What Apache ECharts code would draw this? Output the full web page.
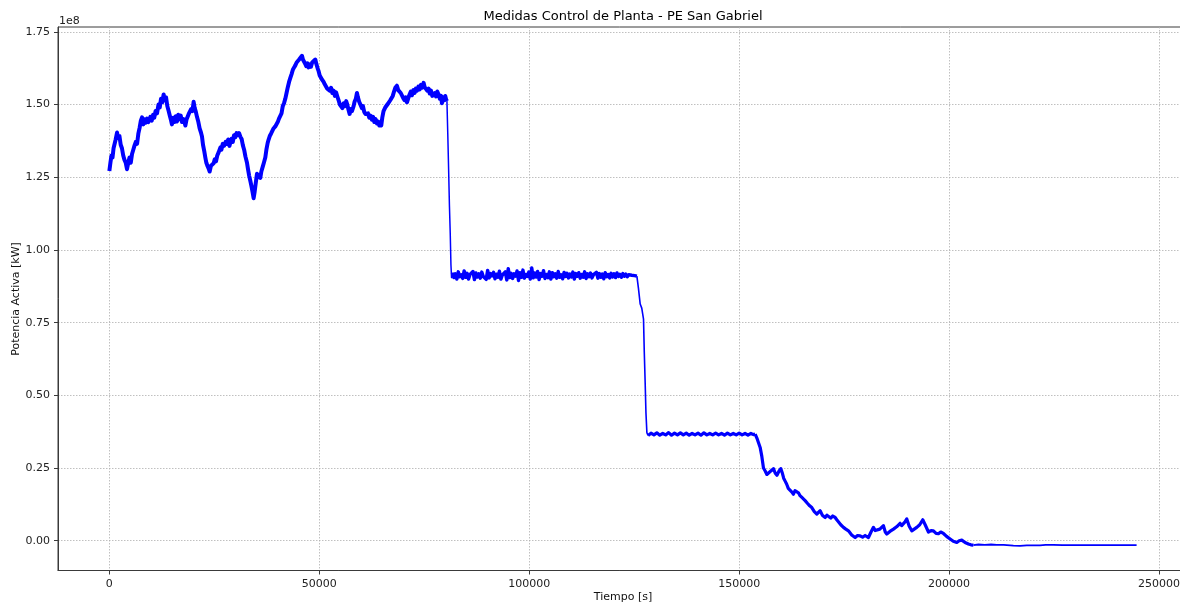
<!DOCTYPE html>
<html>
<head>
<meta charset="utf-8">
<script src="https://cdn.jsdelivr.net/npm/echarts@6/dist/echarts.min.js"></script>
<style>
html,body{margin:0;padding:0;background:#fff;}
#chart{width:1180px;height:603px;}
</style>
</head>
<body>
<div id="chart"></div>
<script>
// Tiempo [s]
const tiempo = [
0,250,500,750,1000,1250,1500,1830,2100,2400,2700,3000,3300,3600,3900,4200,4500,4800,5100,5400,5700,6000,6300,6600,6900,7200,7500,7780,8100,8400,8700,9000,9300,9760,10100,10400,10700,11000,11350,11700,12000,12300,12600,12930,13200,13500,13800,14120,14400,14700,14900,15200,15500,15800,16110,16400,16700,17000,17300,17700,18100,18400,18700,18900,19200,19500,19800,20070,20300,20600,20870,21200,21500,21800,22060,22300,22600,22860,23100,23400,23650,23890,24200,24500,24840,25100,25400,25700,26000,26430,26700,27000,27300,27700,28020,28300,28600,28810,29100,29400,29700,30000,30300,30600,30900,31190,31500,31800,32100,32400,32780,33000,33300,33570,33800,34100,34360,34600,34760,35000,35160,35400,35700,35950,36200,36500,36800,37140,37400,37700,37930,38200,38500,38800,39100,39520,39800,40100,40400,40710,41000,41300,41600,41900,42200,42500,42800,43100,43400,43700,44000,44290,44600,44900,45200,45500,45880,46100,46400,46670,46900,47200,47460,47700,48000,48300,48600,49050,49300,49600,49840,50100,50400,50700,51030,51300,51600,51900,52220,52500,52800,53100,53410,53700,54000,54300,54600,54900,55200,55500,55800,56100,56400,56700,57000,57220,57500,57800,58170,58400,58700,58970,59200,59500,59800,60160,60400,60700,61000,61350,61600,61900,62200,62540,62800,63100,63400,63740,64000,64300,64560,64760,65000,65300,65700,66000,66300,66600,66900,67200,67500,67800,68100,68490,68800,69100,69400,69680,70000,70300,70600,70880,71200,71500,71800,72070,72400,72700,73000,73260,73600,73900,74200,74500,74840,75100,75400,75700,76030,76300,76600,76900,77220,77500,77800,78100,78410,78700,79000,79210,79500,79800,80000,80200,80400,
80600,80790,81000,81190,81350,81500,
81700,82050,82400,82750,83100,83450,83800,84150,84500,84850,
85200,85550,85900,86250,86600,86950,87300,87650,88000,88350,
88700,89050,89400,89750,90100,90450,90800,91150,91500,91850,
92200,92550,92900,93250,93600,93950,94300,94650,95000,95350,
95700,96050,96400,96750,97100,97450,97800,98150,98500,98850,
99200,99550,99900,100250,100600,100950,101300,101650,102000,102350,
102700,103050,103400,103750,104100,104450,104800,105150,105500,105850,
106200,106550,106900,107250,107600,107950,108300,108650,109000,109350,
109700,110050,110400,110750,111100,111450,111800,112150,112500,112850,
113200,113550,113900,114250,114600,114950,115300,115650,116000,116350,
116700,117050,117400,117750,118100,118450,118800,119150,119500,119850,
120200,120550,120900,121250,121600,121950,122300,122650,123000,123350,
123700,124050,124400,124750,125100,125450,125640,
126000,126430,126800,127220,127400,127620,127800,128020,128300,
129000,129700,130400,131100,131800,132500,133200,133900,134600,135300,136000,136700,137400,138100,138800,139500,140200,140900,141600,142300,143000,143700,144400,145100,145800,146500,147200,147900,148600,149300,150000,150700,151400,152100,152800,153400,153810,
154300,155000,155400,155790,156200,156600,156980,157400,157800,158170,158600,159000,159200,159500,159910,160300,160600,160950,161300,161700,162140,162500,162930,163300,163700,164120,164500,165000,165710,166300,166800,167300,167900,168490,168900,169290,169800,170480,170900,171270,171800,172300,172860,173250,173650,174200,174840,175400,176030,176800,177620,178200,178810,179400,180000,180400,180790,181400,181980,182400,182780,183500,184360,184800,185160,185900,186750,187500,188330,188700,189130,189500,189920,190500,191110,191700,192300,193000,193730,194300,195080,195700,196270,196900,197460,198000,198650,199400,200240,201000,201830,202400,203020,203800,204600,205200,205790,207000,208500,210000,211350,213000,215310,216900,218500,220000,221660,223000,224830,227000,230000,234000,238000,242000,244660
];
// Potencia Activa [kW], en unidades de 1e8
const potencia_1e8 = [
1.272,1.300,1.325,1.318,1.350,1.345,1.380,1.404,1.385,1.392,1.362,1.350,1.325,1.310,1.300,1.278,1.300,1.318,1.300,1.330,1.345,1.360,1.372,1.365,1.400,1.420,1.445,1.456,1.432,1.450,1.438,1.452,1.440,1.458,1.445,1.465,1.455,1.478,1.470,1.500,1.490,1.520,1.508,1.535,1.515,1.525,1.495,1.478,1.462,1.445,1.432,1.455,1.440,1.460,1.442,1.465,1.450,1.462,1.440,1.450,1.428,1.450,1.445,1.468,1.462,1.485,1.478,1.510,1.490,1.475,1.458,1.440,1.418,1.405,1.390,1.362,1.340,1.318,1.300,1.288,1.280,1.270,1.290,1.285,1.298,1.312,1.305,1.325,1.335,1.352,1.345,1.365,1.358,1.372,1.365,1.380,1.358,1.370,1.382,1.372,1.395,1.388,1.402,1.395,1.402,1.390,1.382,1.360,1.345,1.322,1.300,1.280,1.255,1.238,1.222,1.200,1.178,1.200,1.218,1.245,1.262,1.250,1.258,1.248,1.270,1.285,1.300,1.318,1.345,1.368,1.380,1.392,1.400,1.398,1.418,1.425,1.420,1.440,1.452,1.448,1.470,1.495,1.505,1.520,1.540,1.560,1.578,1.592,1.605,1.620,1.628,1.635,1.645,1.640,1.655,1.650,1.668,1.655,1.650,1.640,1.632,1.642,1.628,1.638,1.630,1.645,1.640,1.655,1.640,1.625,1.615,1.600,1.595,1.585,1.578,1.570,1.575,1.555,1.560,1.548,1.558,1.540,1.548,1.530,1.542,1.528,1.515,1.500,1.505,1.488,1.505,1.495,1.512,1.498,1.480,1.468,1.485,1.478,1.495,1.510,1.520,1.540,1.525,1.510,1.500,1.488,1.495,1.475,1.468,1.462,1.470,1.455,1.462,1.448,1.458,1.440,1.450,1.435,1.442,1.428,1.440,1.428,1.455,1.478,1.490,1.485,1.502,1.498,1.515,1.510,1.530,1.545,1.558,1.565,1.550,1.555,1.540,1.535,1.522,1.515,1.525,1.508,1.522,1.535,1.545,1.532,1.550,1.540,1.555,1.548,1.562,1.552,1.568,1.558,1.575,1.560,1.565,1.548,1.555,1.538,1.548,1.530,1.525,1.540,1.528,1.545,1.535,1.520,1.530,1.505,1.525,1.515,1.530,1.518,1.512,
1.400,1.284,1.150,1.055,0.950,0.905,
0.922,0.905,0.918,0.900,0.925,0.908,0.915,0.902,0.928,0.906,
0.920,0.900,0.916,0.910,0.926,0.898,0.921,0.907,0.918,0.903,
0.924,0.909,0.915,0.899,0.930,0.904,0.919,0.911,0.923,0.901,
0.917,0.906,0.927,0.900,0.914,0.908,0.925,0.897,0.936,0.905,
0.920,0.902,0.918,0.910,0.928,0.895,0.922,0.906,0.931,0.903,
0.916,0.909,0.924,0.900,0.938,0.904,0.921,0.907,0.926,0.898,
0.919,0.910,0.929,0.902,0.916,0.905,0.925,0.900,0.922,0.908,
0.918,0.903,0.926,0.906,0.915,0.901,0.923,0.909,0.920,0.904,
0.917,0.907,0.924,0.900,0.919,0.910,0.922,0.903,0.916,0.906,
0.925,0.902,0.918,0.908,0.921,0.904,0.915,0.909,0.923,0.903,
0.919,0.906,0.917,0.901,0.922,0.908,0.916,0.904,0.920,0.907,
0.918,0.905,0.921,0.909,0.916,0.906,0.919,0.910,0.917,0.908,
0.915,0.911,0.913,0.910,0.912,0.910,0.910,
0.870,0.814,0.800,0.762,0.650,0.539,0.440,0.372,0.362,
0.370,0.364,0.371,0.363,0.369,0.364,0.372,0.363,0.370,0.364,0.371,0.364,0.370,0.363,0.369,0.364,0.370,0.363,0.371,0.364,0.369,0.364,0.370,0.364,0.369,0.363,0.370,0.364,0.369,0.364,0.370,0.364,0.369,0.363,0.369,0.365,0.367,
0.350,0.321,0.290,0.250,0.240,0.228,0.232,0.238,0.235,0.248,0.232,0.225,0.230,0.240,0.248,0.232,0.215,0.205,0.195,0.180,0.178,0.168,0.160,0.172,0.168,0.165,0.155,0.148,0.138,0.128,0.120,0.114,0.100,0.092,0.098,0.103,0.088,0.080,0.088,0.086,0.078,0.085,0.080,0.072,0.068,0.055,0.046,0.040,0.034,0.020,0.011,0.018,0.017,0.012,0.018,0.014,0.011,0.030,0.046,0.035,0.029,0.040,0.052,0.030,0.023,0.032,0.040,0.048,0.060,0.052,0.052,0.065,0.075,0.050,0.034,0.040,0.046,0.055,0.072,0.055,0.030,0.035,0.034,0.025,0.024,0.030,0.025,0.015,0.006,-0.002,-0.006,0.000,0.002,-0.006,-0.011,-0.014,-0.015,-0.013,-0.014,-0.013,-0.014,-0.014,-0.017,-0.018,-0.016,-0.016,-0.016,-0.014,-0.014,-0.015,-0.015,-0.015,-0.015,-0.015,-0.015
];
const xTicks = [0, 50000, 100000, 150000, 200000, 250000];
const yTicks = [0, 0.25, 0.5, 0.75, 1.0, 1.25, 1.5, 1.75];
// time boundaries of the signal's stretches (noise level differs per stretch)
const tramosInicio = [0, 80400, 81700, 125640, 128300, 153810, 205790];
const tramosFin    = [80400, 81700, 125640, 128300, 153810, 205790, 244660];

const data = tiempo.map((t, i) => [t, potencia_1e8[i]]);
const grosor = [4.0, 1.5, 3.4, 1.6, 3.2, 3.2, 1.8];

const chart = echarts.init(document.getElementById('chart'), null, {renderer: 'canvas'});
const FONT = 'DejaVu Sans';
const gridLine = {show: true, lineStyle: {color: '#b0b0b0', type: [1.5, 1.5], width: 0.8}};
const axisCol = '#3a3a3a';
const series = tramosInicio.map((a, k) => ({
  type: 'line', showSymbol: false, symbol: 'none', clip: true,
  data: data.filter(d => d[0] >= a && d[0] <= tramosFin[k]),
  lineStyle: {color: '#0000ff', width: grosor[k], join: 'round'}, itemStyle: {color: '#0000ff'}
}));
chart.setOption({
  animation: false,
  backgroundColor: '#ffffff',
  textStyle: {fontFamily: FONT},
  grid: {left: 58, right: -8, top: 27, bottom: 32.5, show: true, borderColor: axisCol, borderWidth: 1,
         backgroundColor: 'transparent', containLabel: false, outerBoundsMode: 'none'},
  graphic: [
    {type: 'text', x: 623, y: 17, style: {text: 'Medidas Control de Planta - PE San Gabriel', font: '13px "DejaVu Sans"', fill: '#000', textAlign: 'center', textVerticalAlign: 'middle'}},
    {type: 'text', x: 59, y: 21, style: {text: '1e8', font: '11px "DejaVu Sans"', fill: '#222', textAlign: 'left', textVerticalAlign: 'middle'}},
    {type: 'text', x: 623, y: 597, style: {text: 'Tiempo [s]', font: '11px "DejaVu Sans"', fill: '#111', textAlign: 'center', textVerticalAlign: 'middle'}},
    {type: 'text', x: 16, y: 299, rotation: Math.PI / 2, style: {text: 'Potencia Activa [kW]', font: '11px "DejaVu Sans"', fill: '#111', textAlign: 'center', textVerticalAlign: 'middle'}}
  ],
  xAxis: {
    type: 'value', min: -12233, max: 256900, interval: 50000,
    axisLine: {show: true, onZero: false, lineStyle: {color: axisCol, width: 1}},
    axisTick: {show: true, length: 4, lineStyle: {color: axisCol}, customValues: xTicks},
    axisLabel: {fontFamily: FONT, fontSize: 11, color: '#222', margin: 8,
      customValues: xTicks, formatter: v => String(Math.round(v))},
    splitLine: gridLine
  },
  yAxis: {
    type: 'value', min: -0.1024, max: 1.767, interval: 0.25,
    axisLine: {show: true, onZero: false, lineStyle: {color: axisCol, width: 1}},
    axisTick: {show: true, length: 4, lineStyle: {color: axisCol}, customValues: yTicks},
    axisLabel: {fontFamily: FONT, fontSize: 11, color: '#222', margin: 8,
      customValues: yTicks, formatter: v => Number(v).toFixed(2)},
    splitLine: gridLine
  },
  series: series
});
</script>
</body>
</html>
